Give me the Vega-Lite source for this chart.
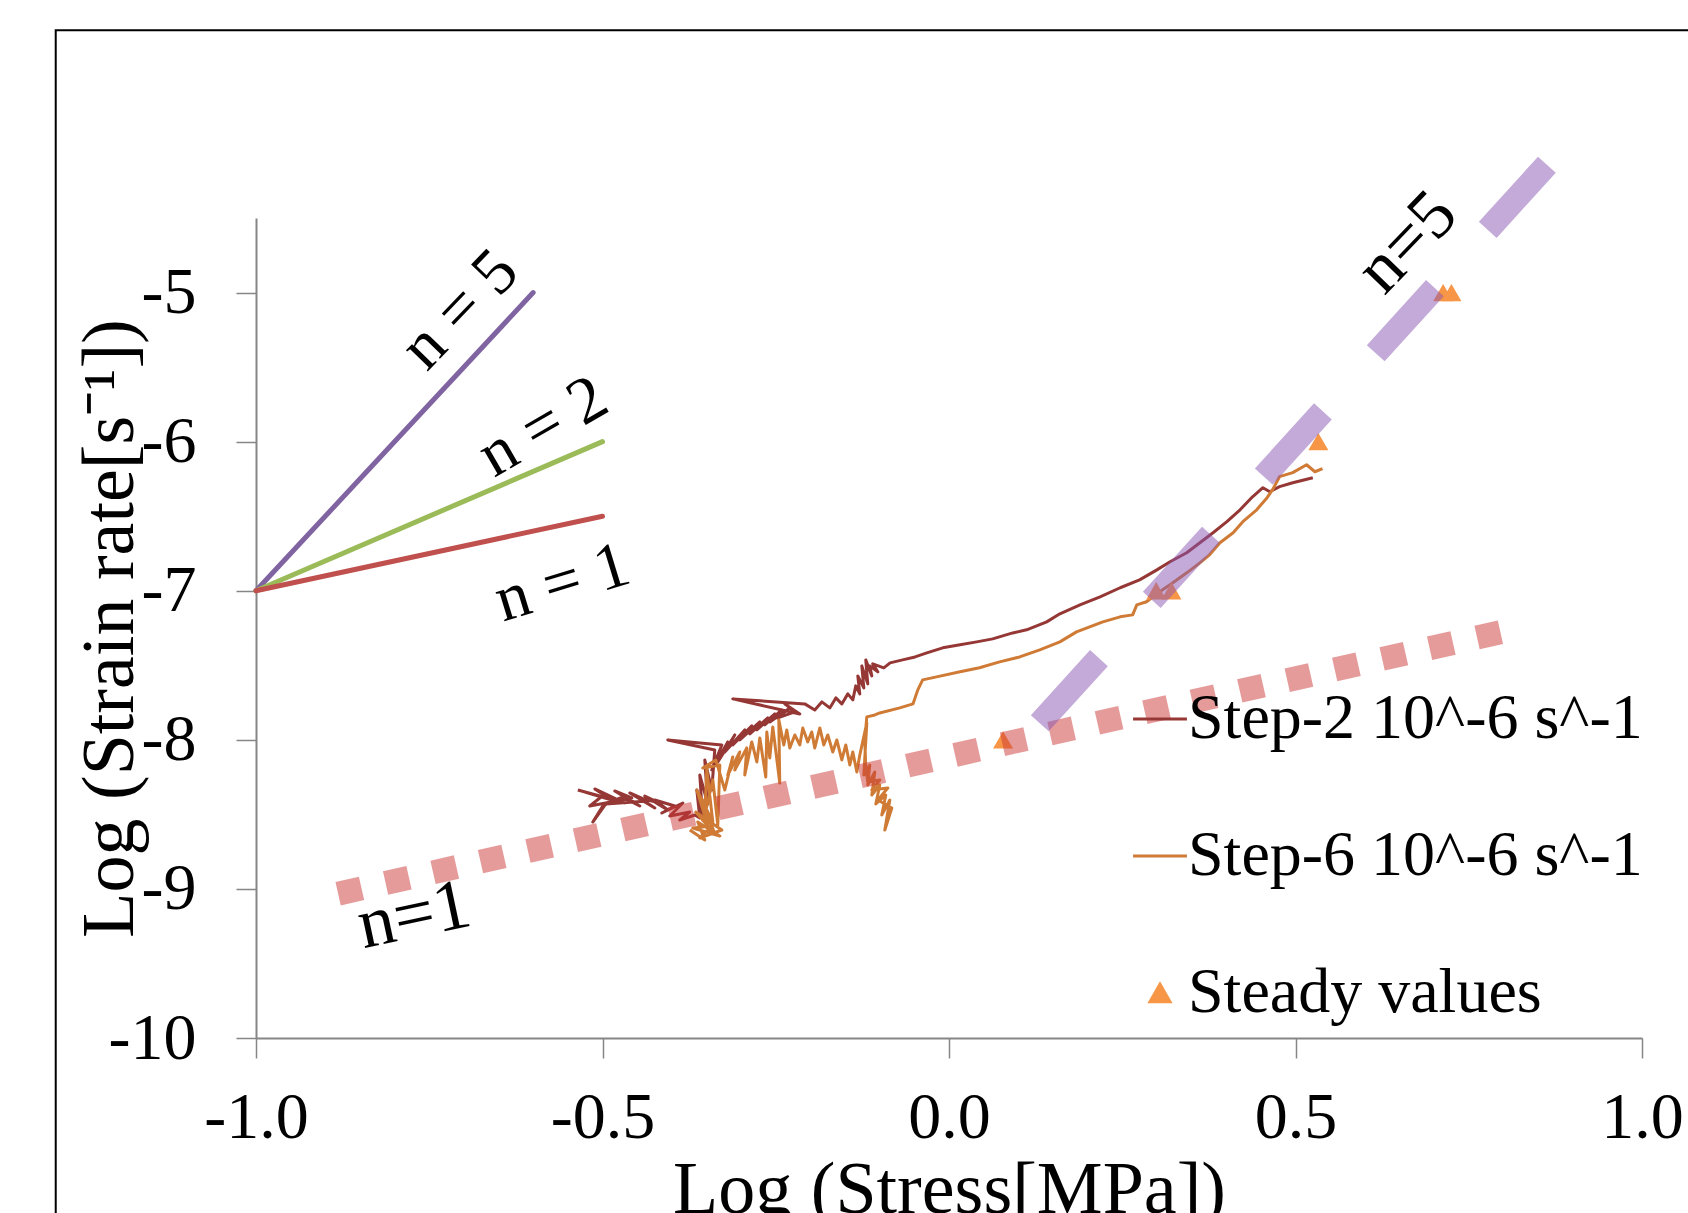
{
  "$schema": "https://vega.github.io/schema/vega-lite/v6.json",
  "width": 1386,
  "height": 820,
  "autosize": {"type": "none"},
  "padding": {"left": 256, "top": 218, "right": 46, "bottom": 175},
  "background": "white",
  "config": {
    "view": {"stroke": null},
    "font": "Liberation Serif",
    "text": {"font": "Liberation Serif", "color": "black"}
  },
  "datasets": {
    "steps": [
      {"series":"Step-2 10^-6 s^-1","i":1,"x":-0.5356,"y":-8.3365},
      {"series":"Step-2 10^-6 s^-1","i":2,"x":-0.5039,"y":-8.3768},
      {"series":"Step-2 10^-6 s^-1","i":3,"x":-0.5255,"y":-8.3499},
      {"series":"Step-2 10^-6 s^-1","i":4,"x":-0.4866,"y":-8.4036},
      {"series":"Step-2 10^-6 s^-1","i":5,"x":-0.5111,"y":-8.3297},
      {"series":"Step-2 10^-6 s^-1","i":6,"x":-0.4678,"y":-8.4238},
      {"series":"Step-2 10^-6 s^-1","i":7,"x":-0.4967,"y":-8.3633},
      {"series":"Step-2 10^-6 s^-1","i":8,"x":-0.5183,"y":-8.4439},
      {"series":"Step-2 10^-6 s^-1","i":9,"x":-0.4577,"y":-8.3902},
      {"series":"Step-2 10^-6 s^-1","i":10,"x":-0.4823,"y":-8.3432},
      {"series":"Step-2 10^-6 s^-1","i":11,"x":-0.4462,"y":-8.4439},
      {"series":"Step-2 10^-6 s^-1","i":12,"x":-0.4722,"y":-8.3834},
      {"series":"Step-2 10^-6 s^-1","i":13,"x":-0.4996,"y":-8.4439},
      {"series":"Step-2 10^-6 s^-1","i":14,"x":-0.5140,"y":-8.5513},
      {"series":"Step-2 10^-6 s^-1","i":15,"x":-0.4952,"y":-8.4304},
      {"series":"Step-2 10^-6 s^-1","i":16,"x":-0.4346,"y":-8.4103},
      {"series":"Step-2 10^-6 s^-1","i":17,"x":-0.4606,"y":-8.3566},
      {"series":"Step-2 10^-6 s^-1","i":18,"x":-0.4245,"y":-8.4573},
      {"series":"Step-2 10^-6 s^-1","i":19,"x":-0.4462,"y":-8.3902},
      {"series":"Step-2 10^-6 s^-1","i":20,"x":-0.4173,"y":-8.4238},
      {"series":"Step-2 10^-6 s^-1","i":21,"x":-0.4390,"y":-8.3768},
      {"series":"Step-2 10^-6 s^-1","i":22,"x":-0.4058,"y":-8.4707},
      {"series":"Step-2 10^-6 s^-1","i":23,"x":-0.4245,"y":-8.4036},
      {"series":"Step-2 10^-6 s^-1","i":24,"x":-0.3957,"y":-8.4439},
      {"series":"Step-2 10^-6 s^-1","i":25,"x":-0.4144,"y":-8.4909},
      {"series":"Step-2 10^-6 s^-1","i":26,"x":-0.3841,"y":-8.4238},
      {"series":"Step-2 10^-6 s^-1","i":27,"x":-0.4029,"y":-8.5110},
      {"series":"Step-2 10^-6 s^-1","i":28,"x":-0.3740,"y":-8.4842},
      {"series":"Step-2 10^-6 s^-1","i":29,"x":-0.3885,"y":-8.5379},
      {"series":"Step-2 10^-6 s^-1","i":30,"x":-0.3668,"y":-8.5043},
      {"series":"Step-2 10^-6 s^-1","i":31,"x":-0.3596,"y":-8.5245},
      {"series":"Step-2 10^-6 s^-1","i":32,"x":-0.3639,"y":-8.3365},
      {"series":"Step-2 10^-6 s^-1","i":33,"x":-0.3553,"y":-8.5379},
      {"series":"Step-2 10^-6 s^-1","i":34,"x":-0.3596,"y":-8.2358},
      {"series":"Step-2 10^-6 s^-1","i":35,"x":-0.3481,"y":-8.4304},
      {"series":"Step-2 10^-6 s^-1","i":36,"x":-0.3524,"y":-8.1351},
      {"series":"Step-2 10^-6 s^-1","i":37,"x":-0.3423,"y":-8.3365},
      {"series":"Step-2 10^-6 s^-1","i":38,"x":-0.3380,"y":-8.0679},
      {"series":"Step-2 10^-6 s^-1","i":39,"x":-0.4058,"y":-8.0008},
      {"series":"Step-2 10^-6 s^-1","i":40,"x":-0.3278,"y":-8.0344},
      {"series":"Step-2 10^-6 s^-1","i":41,"x":-0.3423,"y":-8.2022},
      {"series":"Step-2 10^-6 s^-1","i":42,"x":-0.3192,"y":-8.0142},
      {"series":"Step-2 10^-6 s^-1","i":43,"x":-0.3336,"y":-8.1485},
      {"series":"Step-2 10^-6 s^-1","i":44,"x":-0.3091,"y":-7.9672},
      {"series":"Step-2 10^-6 s^-1","i":45,"x":-0.3235,"y":-8.0814},
      {"series":"Step-2 10^-6 s^-1","i":46,"x":-0.2947,"y":-7.9337},
      {"series":"Step-2 10^-6 s^-1","i":47,"x":-0.3120,"y":-8.0344},
      {"series":"Step-2 10^-6 s^-1","i":48,"x":-0.2846,"y":-7.9068},
      {"series":"Step-2 10^-6 s^-1","i":49,"x":-0.3019,"y":-8.0008},
      {"series":"Step-2 10^-6 s^-1","i":50,"x":-0.2730,"y":-7.8800},
      {"series":"Step-2 10^-6 s^-1","i":51,"x":-0.2874,"y":-7.9605},
      {"series":"Step-2 10^-6 s^-1","i":52,"x":-0.2615,"y":-7.8531},
      {"series":"Step-2 10^-6 s^-1","i":53,"x":-0.2773,"y":-7.9337},
      {"series":"Step-2 10^-6 s^-1","i":54,"x":-0.2514,"y":-7.8263},
      {"series":"Step-2 10^-6 s^-1","i":55,"x":-0.2658,"y":-7.9001},
      {"series":"Step-2 10^-6 s^-1","i":56,"x":-0.2413,"y":-7.7994},
      {"series":"Step-2 10^-6 s^-1","i":57,"x":-0.2586,"y":-7.8800},
      {"series":"Step-2 10^-6 s^-1","i":58,"x":-0.2297,"y":-7.7860},
      {"series":"Step-2 10^-6 s^-1","i":59,"x":-0.2470,"y":-7.8531},
      {"series":"Step-2 10^-6 s^-1","i":60,"x":-0.2225,"y":-7.8128},
      {"series":"Step-2 10^-6 s^-1","i":61,"x":-0.2369,"y":-7.7591},
      {"series":"Step-2 10^-6 s^-1","i":62,"x":-0.2153,"y":-7.8263},
      {"series":"Step-2 10^-6 s^-1","i":63,"x":-0.3120,"y":-7.7256},
      {"series":"Step-2 10^-6 s^-1","i":64,"x":-0.2081,"y":-7.7591},
      {"series":"Step-2 10^-6 s^-1","i":65,"x":-0.1937,"y":-7.7994},
      {"series":"Step-2 10^-6 s^-1","i":66,"x":-0.1835,"y":-7.7457},
      {"series":"Step-2 10^-6 s^-1","i":67,"x":-0.1720,"y":-7.7860},
      {"series":"Step-2 10^-6 s^-1","i":68,"x":-0.1633,"y":-7.7189},
      {"series":"Step-2 10^-6 s^-1","i":69,"x":-0.1547,"y":-7.7591},
      {"series":"Step-2 10^-6 s^-1","i":70,"x":-0.1460,"y":-7.6920},
      {"series":"Step-2 10^-6 s^-1","i":71,"x":-0.1388,"y":-7.7323},
      {"series":"Step-2 10^-6 s^-1","i":72,"x":-0.1345,"y":-7.6383},
      {"series":"Step-2 10^-6 s^-1","i":73,"x":-0.1287,"y":-7.6920},
      {"series":"Step-2 10^-6 s^-1","i":74,"x":-0.1316,"y":-7.5712},
      {"series":"Step-2 10^-6 s^-1","i":75,"x":-0.1229,"y":-7.6518},
      {"series":"Step-2 10^-6 s^-1","i":76,"x":-0.1258,"y":-7.5040},
      {"series":"Step-2 10^-6 s^-1","i":77,"x":-0.1172,"y":-7.6249},
      {"series":"Step-2 10^-6 s^-1","i":78,"x":-0.1201,"y":-7.4638},
      {"series":"Step-2 10^-6 s^-1","i":79,"x":-0.1114,"y":-7.5712},
      {"series":"Step-2 10^-6 s^-1","i":80,"x":-0.1143,"y":-7.5040},
      {"series":"Step-2 10^-6 s^-1","i":81,"x":-0.1027,"y":-7.5443},
      {"series":"Step-2 10^-6 s^-1","i":82,"x":-0.1100,"y":-7.4906},
      {"series":"Step-2 10^-6 s^-1","i":83,"x":-0.0941,"y":-7.5174},
      {"series":"Step-2 10^-6 s^-1","i":84,"x":-0.085,"y":-7.484},
      {"series":"Step-2 10^-6 s^-1","i":85,"x":-0.067,"y":-7.464},
      {"series":"Step-2 10^-6 s^-1","i":86,"x":-0.049,"y":-7.444},
      {"series":"Step-2 10^-6 s^-1","i":87,"x":-0.032,"y":-7.417},
      {"series":"Step-2 10^-6 s^-1","i":88,"x":-0.009,"y":-7.383},
      {"series":"Step-2 10^-6 s^-1","i":89,"x":0.016,"y":-7.363},
      {"series":"Step-2 10^-6 s^-1","i":90,"x":0.040,"y":-7.343},
      {"series":"Step-2 10^-6 s^-1","i":91,"x":0.063,"y":-7.323},
      {"series":"Step-2 10^-6 s^-1","i":92,"x":0.092,"y":-7.283},
      {"series":"Step-2 10^-6 s^-1","i":93,"x":0.112,"y":-7.262},
      {"series":"Step-2 10^-6 s^-1","i":94,"x":0.141,"y":-7.209},
      {"series":"Step-2 10^-6 s^-1","i":95,"x":0.160,"y":-7.155},
      {"series":"Step-2 10^-6 s^-1","i":96,"x":0.189,"y":-7.095},
      {"series":"Step-2 10^-6 s^-1","i":97,"x":0.218,"y":-7.041},
      {"series":"Step-2 10^-6 s^-1","i":98,"x":0.247,"y":-6.980},
      {"series":"Step-2 10^-6 s^-1","i":99,"x":0.275,"y":-6.927},
      {"series":"Step-2 10^-6 s^-1","i":100,"x":0.300,"y":-6.860},
      {"series":"Step-2 10^-6 s^-1","i":101,"x":0.319,"y":-6.806},
      {"series":"Step-2 10^-6 s^-1","i":102,"x":0.343,"y":-6.745},
      {"series":"Step-2 10^-6 s^-1","i":103,"x":0.362,"y":-6.678},
      {"series":"Step-2 10^-6 s^-1","i":104,"x":0.381,"y":-6.611},
      {"series":"Step-2 10^-6 s^-1","i":105,"x":0.401,"y":-6.537},
      {"series":"Step-2 10^-6 s^-1","i":106,"x":0.420,"y":-6.457},
      {"series":"Step-2 10^-6 s^-1","i":107,"x":0.438,"y":-6.370},
      {"series":"Step-2 10^-6 s^-1","i":108,"x":0.453,"y":-6.309},
      {"series":"Step-2 10^-6 s^-1","i":109,"x":0.463,"y":-6.336},
      {"series":"Step-2 10^-6 s^-1","i":110,"x":0.477,"y":-6.302},
      {"series":"Step-2 10^-6 s^-1","i":111,"x":0.496,"y":-6.276},
      {"series":"Step-2 10^-6 s^-1","i":112,"x":0.525,"y":-6.242},
      {"series":"Step-6 10^-6 s^-1","i":1,"x":-0.3740,"y":-8.6050},
      {"series":"Step-6 10^-6 s^-1","i":2,"x":-0.3524,"y":-8.6722},
      {"series":"Step-6 10^-6 s^-1","i":3,"x":-0.3625,"y":-8.5513},
      {"series":"Step-6 10^-6 s^-1","i":4,"x":-0.3307,"y":-8.6453},
      {"series":"Step-6 10^-6 s^-1","i":5,"x":-0.3697,"y":-8.5916},
      {"series":"Step-6 10^-6 s^-1","i":6,"x":-0.3423,"y":-8.5781},
      {"series":"Step-6 10^-6 s^-1","i":7,"x":-0.3596,"y":-8.6587},
      {"series":"Step-6 10^-6 s^-1","i":8,"x":-0.3278,"y":-8.6050},
      {"series":"Step-6 10^-6 s^-1","i":9,"x":-0.3654,"y":-8.4842},
      {"series":"Step-6 10^-6 s^-1","i":10,"x":-0.3380,"y":-8.6319},
      {"series":"Step-6 10^-6 s^-1","i":11,"x":-0.3553,"y":-8.4036},
      {"series":"Step-6 10^-6 s^-1","i":12,"x":-0.3452,"y":-8.6184},
      {"series":"Step-6 10^-6 s^-1","i":13,"x":-0.3639,"y":-8.3365},
      {"series":"Step-6 10^-6 s^-1","i":14,"x":-0.3408,"y":-8.5513},
      {"series":"Step-6 10^-6 s^-1","i":15,"x":-0.3495,"y":-8.2022},
      {"series":"Step-6 10^-6 s^-1","i":16,"x":-0.3524,"y":-8.5043},
      {"series":"Step-6 10^-6 s^-1","i":17,"x":-0.3408,"y":-8.2693},
      {"series":"Step-6 10^-6 s^-1","i":18,"x":-0.3336,"y":-8.5714},
      {"series":"Step-6 10^-6 s^-1","i":19,"x":-0.3307,"y":-8.1686},
      {"series":"Step-6 10^-6 s^-1","i":20,"x":-0.3553,"y":-8.1888},
      {"series":"Step-6 10^-6 s^-1","i":21,"x":-0.3365,"y":-8.1351},
      {"series":"Step-6 10^-6 s^-1","i":22,"x":-0.3235,"y":-8.3365},
      {"series":"Step-6 10^-6 s^-1","i":23,"x":-0.3120,"y":-8.1149},
      {"series":"Step-6 10^-6 s^-1","i":24,"x":-0.3192,"y":-8.2358},
      {"series":"Step-6 10^-6 s^-1","i":25,"x":-0.3019,"y":-8.0814},
      {"series":"Step-6 10^-6 s^-1","i":26,"x":-0.3091,"y":-8.2022},
      {"series":"Step-6 10^-6 s^-1","i":27,"x":-0.2918,"y":-8.0545},
      {"series":"Step-6 10^-6 s^-1","i":28,"x":-0.2947,"y":-8.2358},
      {"series":"Step-6 10^-6 s^-1","i":29,"x":-0.2846,"y":-8.0142},
      {"series":"Step-6 10^-6 s^-1","i":30,"x":-0.2773,"y":-8.1485},
      {"series":"Step-6 10^-6 s^-1","i":31,"x":-0.2730,"y":-7.9874},
      {"series":"Step-6 10^-6 s^-1","i":32,"x":-0.2644,"y":-8.2492},
      {"series":"Step-6 10^-6 s^-1","i":33,"x":-0.2629,"y":-7.9471},
      {"series":"Step-6 10^-6 s^-1","i":34,"x":-0.2586,"y":-8.1216},
      {"series":"Step-6 10^-6 s^-1","i":35,"x":-0.2543,"y":-7.9136},
      {"series":"Step-6 10^-6 s^-1","i":36,"x":-0.2442,"y":-8.2895},
      {"series":"Step-6 10^-6 s^-1","i":37,"x":-0.2456,"y":-7.8665},
      {"series":"Step-6 10^-6 s^-1","i":38,"x":-0.2384,"y":-8.0344},
      {"series":"Step-6 10^-6 s^-1","i":39,"x":-0.2341,"y":-7.9337},
      {"series":"Step-6 10^-6 s^-1","i":40,"x":-0.2297,"y":-8.0545},
      {"series":"Step-6 10^-6 s^-1","i":41,"x":-0.2225,"y":-7.9672},
      {"series":"Step-6 10^-6 s^-1","i":42,"x":-0.2153,"y":-8.0344},
      {"series":"Step-6 10^-6 s^-1","i":43,"x":-0.2110,"y":-7.9203},
      {"series":"Step-6 10^-6 s^-1","i":44,"x":-0.2038,"y":-8.0142},
      {"series":"Step-6 10^-6 s^-1","i":45,"x":-0.1980,"y":-7.9471},
      {"series":"Step-6 10^-6 s^-1","i":46,"x":-0.1937,"y":-8.0545},
      {"series":"Step-6 10^-6 s^-1","i":47,"x":-0.1864,"y":-7.9203},
      {"series":"Step-6 10^-6 s^-1","i":48,"x":-0.1807,"y":-8.0344},
      {"series":"Step-6 10^-6 s^-1","i":49,"x":-0.1749,"y":-7.9672},
      {"series":"Step-6 10^-6 s^-1","i":50,"x":-0.1677,"y":-8.0814},
      {"series":"Step-6 10^-6 s^-1","i":51,"x":-0.1619,"y":-8.0008},
      {"series":"Step-6 10^-6 s^-1","i":52,"x":-0.1547,"y":-8.1351},
      {"series":"Step-6 10^-6 s^-1","i":53,"x":-0.1489,"y":-8.0344},
      {"series":"Step-6 10^-6 s^-1","i":54,"x":-0.1431,"y":-8.1686},
      {"series":"Step-6 10^-6 s^-1","i":55,"x":-0.1388,"y":-8.0814},
      {"series":"Step-6 10^-6 s^-1","i":56,"x":-0.1330,"y":-8.2156},
      {"series":"Step-6 10^-6 s^-1","i":57,"x":-0.1287,"y":-8.1015},
      {"series":"Step-6 10^-6 s^-1","i":58,"x":-0.1186,"y":-7.8867},
      {"series":"Step-6 10^-6 s^-1","i":59,"x":-0.1229,"y":-8.2358},
      {"series":"Step-6 10^-6 s^-1","i":60,"x":-0.1143,"y":-8.1686},
      {"series":"Step-6 10^-6 s^-1","i":61,"x":-0.1172,"y":-8.3029},
      {"series":"Step-6 10^-6 s^-1","i":62,"x":-0.1071,"y":-8.2156},
      {"series":"Step-6 10^-6 s^-1","i":63,"x":-0.1114,"y":-8.3700},
      {"series":"Step-6 10^-6 s^-1","i":64,"x":-0.0999,"y":-8.3029},
      {"series":"Step-6 10^-6 s^-1","i":65,"x":-0.1056,"y":-8.4304},
      {"series":"Step-6 10^-6 s^-1","i":66,"x":-0.0912,"y":-8.3700},
      {"series":"Step-6 10^-6 s^-1","i":67,"x":-0.0970,"y":-8.5043},
      {"series":"Step-6 10^-6 s^-1","i":68,"x":-0.0854,"y":-8.4036},
      {"series":"Step-6 10^-6 s^-1","i":69,"x":-0.0926,"y":-8.6050},
      {"series":"Step-6 10^-6 s^-1","i":70,"x":-0.0825,"y":-8.4573},
      {"series":"Step-6 10^-6 s^-1","i":71,"x":-0.1027,"y":-8.4036},
      {"series":"Step-6 10^-6 s^-1","i":72,"x":-0.0883,"y":-8.3231},
      {"series":"Step-6 10^-6 s^-1","i":73,"x":-0.1114,"y":-8.3365},
      {"series":"Step-6 10^-6 s^-1","i":74,"x":-0.0999,"y":-8.2693},
      {"series":"Step-6 10^-6 s^-1","i":75,"x":-0.1172,"y":-8.2828},
      {"series":"Step-6 10^-6 s^-1","i":76,"x":-0.1201,"y":-8.1820},
      {"series":"Step-6 10^-6 s^-1","i":77,"x":-0.1215,"y":-8.0008},
      {"series":"Step-6 10^-6 s^-1","i":78,"x":-0.1186,"y":-7.8464},
      {"series":"Step-6 10^-6 s^-1","i":79,"x":-0.107,"y":-7.833},
      {"series":"Step-6 10^-6 s^-1","i":80,"x":-0.100,"y":-7.820},
      {"series":"Step-6 10^-6 s^-1","i":81,"x":-0.071,"y":-7.786},
      {"series":"Step-6 10^-6 s^-1","i":82,"x":-0.052,"y":-7.759},
      {"series":"Step-6 10^-6 s^-1","i":83,"x":-0.045,"y":-7.665},
      {"series":"Step-6 10^-6 s^-1","i":84,"x":-0.038,"y":-7.598},
      {"series":"Step-6 10^-6 s^-1","i":85,"x":-0.018,"y":-7.578},
      {"series":"Step-6 10^-6 s^-1","i":86,"x":0.016,"y":-7.544},
      {"series":"Step-6 10^-6 s^-1","i":87,"x":0.044,"y":-7.517},
      {"series":"Step-6 10^-6 s^-1","i":88,"x":0.073,"y":-7.477},
      {"series":"Step-6 10^-6 s^-1","i":89,"x":0.102,"y":-7.444},
      {"series":"Step-6 10^-6 s^-1","i":90,"x":0.131,"y":-7.397},
      {"series":"Step-6 10^-6 s^-1","i":91,"x":0.160,"y":-7.343},
      {"series":"Step-6 10^-6 s^-1","i":92,"x":0.184,"y":-7.276},
      {"series":"Step-6 10^-6 s^-1","i":93,"x":0.203,"y":-7.242},
      {"series":"Step-6 10^-6 s^-1","i":94,"x":0.222,"y":-7.209},
      {"series":"Step-6 10^-6 s^-1","i":95,"x":0.247,"y":-7.175},
      {"series":"Step-6 10^-6 s^-1","i":96,"x":0.265,"y":-7.162},
      {"series":"Step-6 10^-6 s^-1","i":97,"x":0.271,"y":-7.095},
      {"series":"Step-6 10^-6 s^-1","i":98,"x":0.285,"y":-7.074},
      {"series":"Step-6 10^-6 s^-1","i":99,"x":0.304,"y":-7.007},
      {"series":"Step-6 10^-6 s^-1","i":100,"x":0.323,"y":-6.947},
      {"series":"Step-6 10^-6 s^-1","i":101,"x":0.343,"y":-6.880},
      {"series":"Step-6 10^-6 s^-1","i":102,"x":0.362,"y":-6.813},
      {"series":"Step-6 10^-6 s^-1","i":103,"x":0.376,"y":-6.759},
      {"series":"Step-6 10^-6 s^-1","i":104,"x":0.391,"y":-6.678},
      {"series":"Step-6 10^-6 s^-1","i":105,"x":0.410,"y":-6.611},
      {"series":"Step-6 10^-6 s^-1","i":106,"x":0.424,"y":-6.537},
      {"series":"Step-6 10^-6 s^-1","i":107,"x":0.444,"y":-6.457},
      {"series":"Step-6 10^-6 s^-1","i":108,"x":0.459,"y":-6.376},
      {"series":"Step-6 10^-6 s^-1","i":109,"x":0.467,"y":-6.322},
      {"series":"Step-6 10^-6 s^-1","i":110,"x":0.477,"y":-6.235},
      {"series":"Step-6 10^-6 s^-1","i":111,"x":0.496,"y":-6.208},
      {"series":"Step-6 10^-6 s^-1","i":112,"x":0.516,"y":-6.155},
      {"series":"Step-6 10^-6 s^-1","i":113,"x":0.528,"y":-6.202},
      {"series":"Step-6 10^-6 s^-1","i":114,"x":0.539,"y":-6.181}
    ],
    "steady": [
      {"series":"Steady values","x":0.078,"y":-8.0},
      {"series":"Steady values","x":0.299,"y":-7.0},
      {"series":"Steady values","x":0.321,"y":-7.0},
      {"series":"Steady values","x":0.533,"y":-6.0},
      {"series":"Steady values","x":0.713,"y":-5.0},
      {"series":"Steady values","x":0.725,"y":-5.0}
    ],
    "refs": [
      {"line":"n5","x":-1.0,"y":-7.0},{"line":"n5","x":-0.6,"y":-5.0},
      {"line":"n2","x":-1.0,"y":-7.0},{"line":"n2","x":-0.5,"y":-6.0},
      {"line":"n1","x":-1.0,"y":-7.0},{"line":"n1","x":-0.5,"y":-6.5}
    ],
    "bands": [
      {"band":"n1","x":-0.8815,"y":-9.032},{"band":"n1","x":0.7958,"y":-7.2785},
      {"band":"n5","x":0.131,"y":-7.889},{"band":"n5","x":0.8631,"y":-4.141}
    ],
    "labels": [
      {"key":"a","label":"n = 5","x":-0.706,"y":-5.114},
      {"key":"b","label":"n = 2","x":-0.586,"y":-5.90},
      {"key":"c","label":"n = 1","x":-0.558,"y":-6.947},
      {"key":"d","label":"n=5","x":0.661,"y":-4.664},
      {"key":"e","label":"n=1","x":-0.772,"y":-9.176}
    ]
  },
  "layer": [
    {
      "data": {"values": [{}]},
      "mark": {"type": "rect", "fill": "transparent", "stroke": "#000000", "strokeWidth": 2},
      "encoding": {
        "x": {"datum": -1.289, "type": "quantitative", "scale": {"domain": [-1, 1], "nice": false, "zero": false},
          "axis": {
            "values": [-1, -0.5, 0, 0.5, 1],
            "labelExpr": "replace(format(datum.value, '.1f'), '\u2212', '-')",
            "labelFont": "Liberation Serif", "labelFontSize": 66, "labelColor": "#000000", "labelPadding": 27,
            "labelFlush": false, "labelOverlap": false,
            "domainColor": "#868686", "domainWidth": 2, "tickColor": "#868686", "tickWidth": 1.5, "tickSize": 20,
            "grid": false,
            "title": "Log (Stress[MPa])", "titleFont": "Liberation Serif", "titleFontSize": 74, "titleFontWeight": "normal",
            "titleColor": "#000000", "titleX": 693, "titleY": 174, "titleBaseline": "alphabetic", "titleAlign": "center"
          }},
        "x2": {"datum": 1.3},
        "y": {"datum": -3.241, "type": "quantitative", "scale": {"domain": [-10, -4.5], "nice": false, "zero": false},
          "axis": {
            "values": [-10, -9, -8, -7, -6, -5],
            "labelExpr": "replace(format(datum.value, 'd'), '\u2212', '-')",
            "labelFont": "Liberation Serif", "labelFontSize": 66, "labelColor": "#000000", "labelPadding": 40,
            "labelFlush": false, "labelOverlap": false,
            "domainColor": "#868686", "domainWidth": 2, "tickColor": "#868686", "tickWidth": 1.5, "tickSize": 20,
            "grid": false,
            "title": "Log (Strain rate[s\u207b\u00b9])", "titleFont": "Liberation Serif", "titleFontSize": 74, "titleFontWeight": "normal",
            "titleColor": "#000000", "titleX": -124, "titleY": 410, "titleAngle": -90, "titleBaseline": "alphabetic", "titleAlign": "center"
          }},
        "y2": {"datum": -12}
      }
    },
    {
      "data": {"name": "refs"},
      "transform": [{"filter": "datum.line === 'n5'"}],
      "mark": {"type": "line", "color": "#8064A2", "strokeWidth": 5, "strokeCap": "round"},
      "encoding": {"x": {"field": "x", "type": "quantitative"}, "y": {"field": "y", "type": "quantitative"}}
    },
    {
      "data": {"name": "refs"},
      "transform": [{"filter": "datum.line === 'n2'"}],
      "mark": {"type": "line", "color": "#9BBB59", "strokeWidth": 5, "strokeCap": "round"},
      "encoding": {"x": {"field": "x", "type": "quantitative"}, "y": {"field": "y", "type": "quantitative"}}
    },
    {
      "data": {"name": "refs"},
      "transform": [{"filter": "datum.line === 'n1'"}],
      "mark": {"type": "line", "color": "#C0504D", "strokeWidth": 5, "strokeCap": "round"},
      "encoding": {"x": {"field": "x", "type": "quantitative"}, "y": {"field": "y", "type": "quantitative"}}
    },
    {
      "data": {"name": "steps"},
      "mark": {"type": "line", "strokeWidth": 3, "strokeJoin": "round"},
      "encoding": {
        "x": {"field": "x", "type": "quantitative"},
        "y": {"field": "y", "type": "quantitative"},
        "order": {"field": "i", "type": "quantitative"},
        "color": {
          "field": "series", "type": "nominal",
          "scale": {"domain": ["Step-2 10^-6 s^-1", "Step-6 10^-6 s^-1", "Steady values"], "range": ["#953735", "#CF7B35", "#F79646"]},
          "legend": {
            "orient": "none", "legendX": 872, "legendY": 469, "title": null,
            "symbolType": "stroke", "symbolSize": 2900, "symbolStrokeWidth": 3,
            "labelFont": "Liberation Serif", "labelFontSize": 64, "labelColor": "#000000", "labelOffset": -4,
            "rowPadding": 73, "labelLimit": 0,
            "encode": {
              "symbols": {
                "update": {
                  "shape": {"signal": "datum.value === 'Steady values' ? 'triangle-up' : 'stroke'"},
                  "size": {"signal": "datum.value === 'Steady values' ? 400 : 2900"},
                  "fill": {"signal": "datum.value === 'Steady values' ? '#F79646' : 'transparent'"},
                  "stroke": {"signal": "datum.value === 'Steady values' ? 'transparent' : scale('color', datum.value)"},
                  "strokeWidth": {"value": 3},
                  "opacity": {"value": 1}
                }
              }
            }
          }
        }
      }
    },
    {
      "data": {"name": "steady"},
      "mark": {"type": "point", "shape": "triangle-up", "filled": true, "size": 400, "opacity": 1},
      "encoding": {
        "x": {"field": "x", "type": "quantitative"},
        "y": {"field": "y", "type": "quantitative"},
        "color": {"field": "series", "type": "nominal", "legend": null}
      }
    },
    {
      "data": {"name": "bands"},
      "transform": [{"filter": "datum.band === 'n1'"}],
      "mark": {"type": "line", "color": "#CD3737", "opacity": 0.5, "strokeWidth": 24, "strokeCap": "butt", "strokeDash": [24, 24.64]},
      "encoding": {"x": {"field": "x", "type": "quantitative"}, "y": {"field": "y", "type": "quantitative"}}
    },
    {
      "data": {"name": "bands"},
      "transform": [{"filter": "datum.band === 'n5'"}],
      "mark": {"type": "line", "color": "#8955B1", "opacity": 0.5, "strokeWidth": 24, "strokeCap": "butt", "strokeDash": [88, 78.6]},
      "encoding": {"x": {"field": "x", "type": "quantitative"}, "y": {"field": "y", "type": "quantitative"}}
    },
    {
      "data": {"name": "labels"},
      "transform": [{"filter": "datum.key === 'a'"}],
      "mark": {"type": "text", "font": "Liberation Serif", "fontSize": 66, "angle": -46, "align": "center", "baseline": "middle", "color": "#000000"},
      "encoding": {"x": {"field": "x", "type": "quantitative"}, "y": {"field": "y", "type": "quantitative"}, "text": {"field": "label"}}
    },
    {
      "data": {"name": "labels"},
      "transform": [{"filter": "datum.key === 'b'"}],
      "mark": {"type": "text", "font": "Liberation Serif", "fontSize": 66, "angle": -30, "align": "center", "baseline": "middle", "color": "#000000"},
      "encoding": {"x": {"field": "x", "type": "quantitative"}, "y": {"field": "y", "type": "quantitative"}, "text": {"field": "label"}}
    },
    {
      "data": {"name": "labels"},
      "transform": [{"filter": "datum.key === 'c'"}],
      "mark": {"type": "text", "font": "Liberation Serif", "fontSize": 66, "angle": -17, "align": "center", "baseline": "middle", "color": "#000000"},
      "encoding": {"x": {"field": "x", "type": "quantitative"}, "y": {"field": "y", "type": "quantitative"}, "text": {"field": "label"}}
    },
    {
      "data": {"name": "labels"},
      "transform": [{"filter": "datum.key === 'd'"}],
      "mark": {"type": "text", "font": "Liberation Serif", "fontSize": 70, "angle": -46, "align": "center", "baseline": "middle", "color": "#000000"},
      "encoding": {"x": {"field": "x", "type": "quantitative"}, "y": {"field": "y", "type": "quantitative"}, "text": {"field": "label"}}
    },
    {
      "data": {"name": "labels"},
      "transform": [{"filter": "datum.key === 'e'"}],
      "mark": {"type": "text", "font": "Liberation Serif", "fontSize": 72, "angle": -12, "align": "center", "baseline": "middle", "color": "#000000"},
      "encoding": {"x": {"field": "x", "type": "quantitative"}, "y": {"field": "y", "type": "quantitative"}, "text": {"field": "label"}}
    }
  ]
}
